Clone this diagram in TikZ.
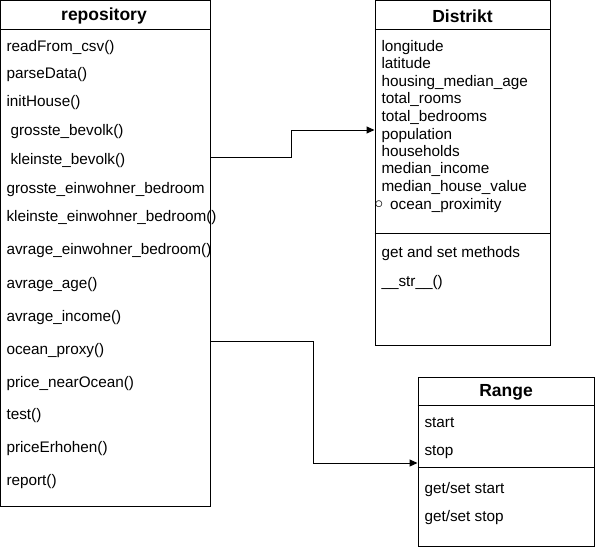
\documentclass[tikz,border=0pt]{standalone}
\usepackage{fontspec}
\setmainfont{Liberation Sans}
\usetikzlibrary{arrows.meta}
\tikzset{
  classbox/.style={draw, rectangle, inner sep=0pt},
  classtitle/.style={inner sep=0pt, font=\bfseries\fontsize{17.5}{20}\selectfont},
  member/.style={anchor=west, inner sep=0pt, text height=11pt, text depth=3.5pt,
    yshift=-1.5pt, font=\fontsize{15.3}{17}\selectfont},
  link/.style={-{Triangle[length=8pt,width=7pt]}}
}
\begin{document}
\begin{tikzpicture}[x=1pt,y=-1pt,line width=1pt]
    \useasboundingbox (0,0) rectangle (597,549);

% repository class
    \node[classbox, minimum width=209.5pt, minimum height=505.5pt] (repo) at (105.25,253.25) {};
    \node[classtitle] (repotitle) at (104,16) {repository};
    \draw (repo.west |- 0,29) -- (repo.east |- 0,29);

    \node[member] (r1) at (6,46) {readFrom\_csv()};
    \node[member] (r2) at (6,73) {parseData()};
    \node[member] (r3) at (6,101) {initHouse()};
    \node[member] (r4) at (10,130) {grosste\_bevolk()};
    \node[member] (r5) at (10,159) {kleinste\_bevolk()};
    \begin{scope}
        \clip (0,170) rectangle (209.5,205);
        \node[member] (r6) at (6,188) {grosste\_einwohner\_bedroom};
    \end{scope}
    \node[member] (r7) at (6,216) {kleinste\_einwohner\_bedroom()};
    \node[member] (r8) at (6,249) {avrage\_einwohner\_bedroom()};
    \node[member] (r9) at (6,283) {avrage\_age()};
    \node[member] (r10) at (6,316) {avrage\_income()};
    \node[member] (r11) at (6,349) {ocean\_proxy()};
    \node[member] (r12) at (6,382) {price\_nearOcean()};
    \node[member] (r13) at (6,414) {test()};
    \node[member] (r14) at (6,447) {priceErhohen()};
    \node[member] (r15) at (6,480) {report()};

% Distrikt class
    \node[classbox, minimum width=175pt, minimum height=344.5pt] (distrikt) at (462.5,172.75) {};
    \node[classtitle] (distrikttitle) at (462.5,16) {Distrikt};
    \draw (distrikt.west |- 0,29) -- (distrikt.east |- 0,29);

    \node[member] (d1) at (381,46) {longitude};
    \node[member] (d2) at (381,63) {latitude};
    \node[member] (d3) at (381,81) {housing\_median\_age};
    \node[member] (d4) at (381,98) {total\_rooms};
    \node[member] (d5) at (381,116) {total\_bedrooms};
    \node[member] (d6) at (381,134) {population};
    \node[member] (d7) at (381,151) {households};
    \node[member] (d8) at (381,168) {median\_income};
    \node[member] (d9) at (381,186) {median\_house\_value};
    \node[member] (d10) at (374,204) {\raisebox{1pt}{\fontsize{16}{16}\selectfont$\circ$}\hspace{7pt}ocean\_proximity};

    \draw (distrikt.west |- 0,233) -- (distrikt.east |- 0,233);
    \node[member] (d11) at (381,252) {get and set methods};
    \node[member] (d12) at (381,281) {\_\_str\_\_()};

% Range class
    \node[classbox, minimum width=176pt, minimum height=169pt] (range) at (506,461.5) {};
    \node[classtitle] (rangetitle) at (506,392) {Range};
    \draw (range.west |- 0,405) -- (range.east |- 0,405);

    \node[member] (g1) at (424,422) {start};
    \node[member] (g2) at (424,450) {stop};
    \draw (range.west |- 0,467) -- (range.east |- 0,467);
    \node[member] (g3) at (424,488) {get/set start};
    \node[member] (g4) at (424,516) {get/set stop};

% connectors
    \draw[link] (repo.east |- 0,157) -- (291,157) -- (291,130) -- (distrikt.west |- 0,130);
    \draw[link] (repo.east |- 0,341) -- (313,341) -- (313,463) -- (range.west |- 0,463);

\end{tikzpicture}
\end{document}
